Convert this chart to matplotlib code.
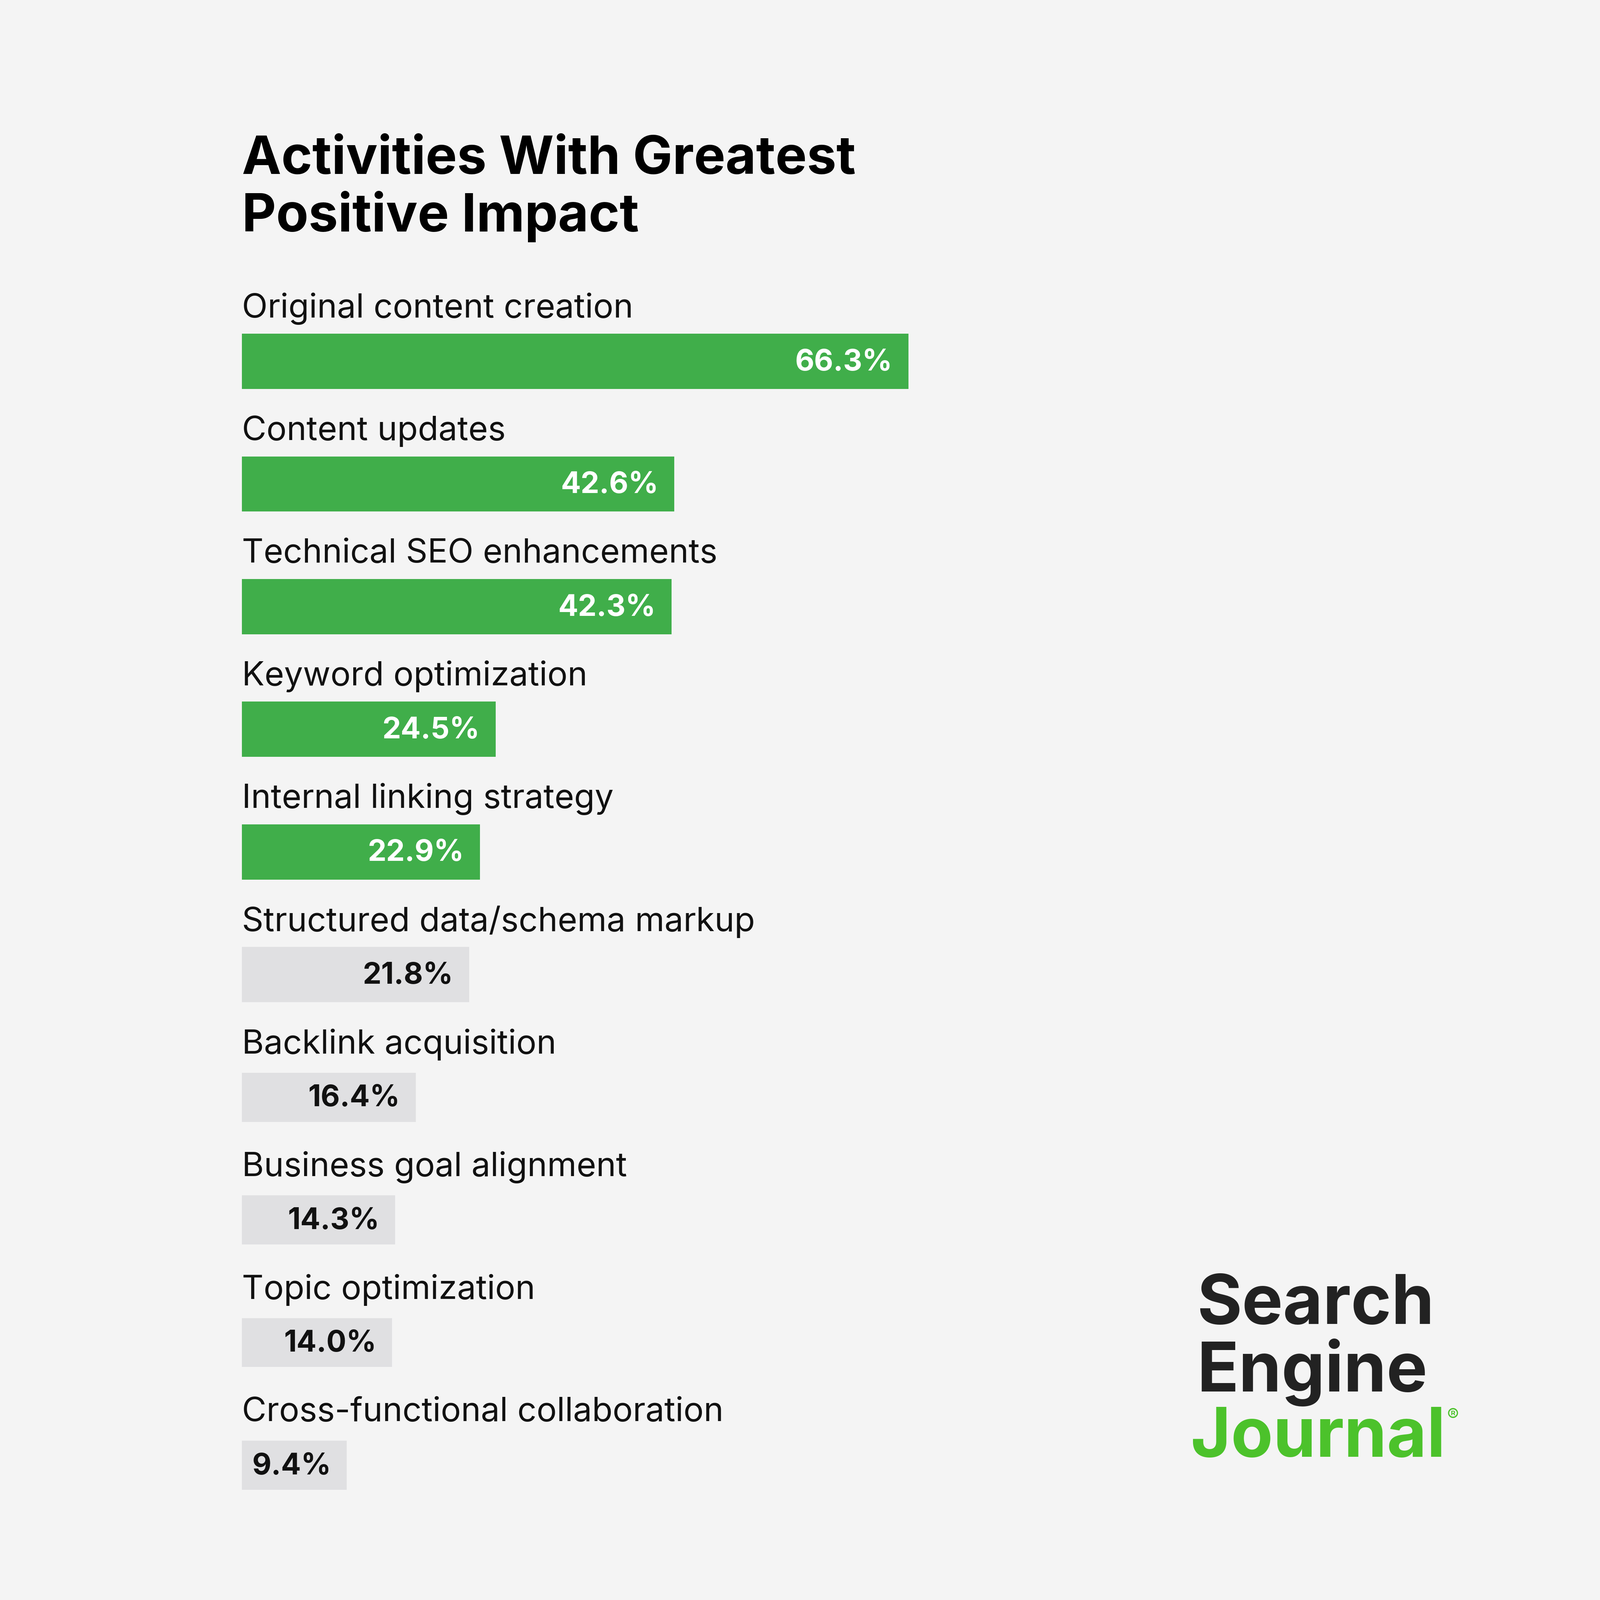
import matplotlib.pyplot as plt

categories = ["Original content creation", "Content updates", "Technical SEO enhancements",
              "Keyword optimization", "Internal linking strategy", "Structured data/schema markup",
              "Backlink acquisition", "Business goal alignment", "Topic optimization",
              "Cross-functional collaboration"]
values = [66.3, 42.6, 42.3, 24.5, 22.9, 21.8, 16.4, 14.3, 14.0, 9.4]
n_green = 5

GREEN = "#40ae4a"
GRAY = "#e0e0e2"
plt.rcParams["font.family"] = "Inter"

W = 1568.0
PAD = 1.24  # bars start a little left of the zero line
fig = plt.figure(figsize=(13.89, 13.89), dpi=300, facecolor="#f4f4f4")

ax = fig.add_axes([237 / W, 1 - 1496 / W, 979 / W, 1202 / W])
ax.set_facecolor("none")
ax.set_xlim(-PAD, 100)
ax.set_ylim(len(values) - 0.5, -0.5)
ax.axis("off")

for i, (cat, v) in enumerate(zip(categories, values)):
    green = i < n_green
    ax.barh(i, v + PAD, height=0.45 if green or i == 5 else 0.4, left=-PAD,
            color=GREEN if green else GRAY)
    ax.text(-PAD, i - 0.43, cat, fontsize=21, color="#111111", ha="left", va="center")
    ax.text(v - 1.6, i + 0.01, f"{v:.1f}%", fontsize=18.5, fontweight="bold",
            color="white" if green else "#111111", ha="right", va="center")

fig.text(237 / W, 1 - 185 / W, "Activities With Greatest\nPositive Impact", fontsize=33,
         fontweight="bold", color="black", ha="left", va="center", linespacing=1.15)

fig.text(1173 / W, 1 - 1280 / W, "Search", fontsize=43, fontweight="bold", color="#222222", va="center")
fig.text(1173 / W, 1 - 1345 / W, "Engine", fontsize=43, fontweight="bold", color="#222222", va="center")
fig.text(1167 / W, 1 - 1410 / W, "Journal", fontsize=43, fontweight="bold", color="#4cc22b", va="center")
fig.text(1418 / W, 1 - 1388 / W, "®", fontsize=11, color="#4cc22b", va="center")

fig.savefig("out.png", dpi=300, facecolor=fig.get_facecolor())
